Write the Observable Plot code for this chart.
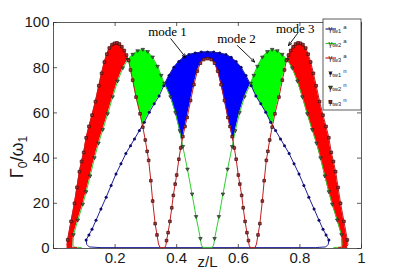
<!DOCTYPE html>
<html><head><meta charset="utf-8">
<script src="https://cdn.jsdelivr.net/npm/d3@7"></script>
<script src="https://cdn.jsdelivr.net/npm/@observablehq/plot@0.6"></script>
<style>body{margin:0;background:#fff} svg{display:block}</style>
</head><body><div id="chart"></div>
<script>
// ---- data (z/L, Γ0/ω1) ----
// mode 3 (γtw3): three arches
const red1Z = [0.044,0.046,0.057,0.068,0.076,0.084,0.091,0.098,0.106,0.115,0.125,0.136,0.147,0.156,0.165,0.173,0.181,0.19,0.198,0.206,0.214,0.222,0.23,0.237,0.244,0.25,0.257,0.268,0.281,0.29,0.298,0.304,0.309,0.316,0.322,0.33,0.336,0.341];
const red1G = [1.5,3.8,12,20,27,34,38.5,42.5,49,54,59,65,72,77.5,82.5,86,88.7,90.2,90.8,91,90.5,89.3,87.6,85.6,83.2,79,74.5,67,59.6,53.7,48,43,39,30,21,11,6,2];
const red2Z = [0.365,0.367,0.372,0.378,0.384,0.389,0.395,0.4,0.407,0.413,0.42,0.427,0.434,0.445,0.456,0.467,0.477,0.488,0.5,0.512,0.523,0.533,0.544,0.555,0.566,0.573,0.58,0.587,0.593,0.6,0.605,0.611,0.616,0.622,0.628,0.633,0.635];
const red2G = [1.5,3.5,7,12,18,23.5,28.5,32.5,39.5,44.5,49.5,54,58,65.5,72.5,78.5,82,83.6,84,83.6,82,78.5,72.5,65.5,58,54,49.5,44.5,39.5,32.5,28.5,23.5,18,12,7,3.5,1.5];
const red3Z = [0.659,0.664,0.67,0.678,0.684,0.691,0.696,0.702,0.71,0.719,0.732,0.743,0.75,0.756,0.763,0.77,0.778,0.786,0.794,0.802,0.81,0.819,0.827,0.835,0.844,0.853,0.864,0.875,0.885,0.894,0.902,0.909,0.916,0.924,0.932,0.943,0.954,0.956];
const red3G = [2,6,11,21,30,39,43,48,53.7,59.6,67,74.5,79,83.2,85.6,87.6,89.3,90.5,91,90.8,90.2,88.7,86,82.5,77.5,72,65,59,54,49,42.5,38.5,34,27,20,12,3.8,1.5];
// mode 2 (γtw2): two arches
const green1Z = [0.063,0.065,0.079,0.095,0.106,0.119,0.133,0.146,0.16,0.176,0.192,0.208,0.225,0.241,0.257,0.273,0.29,0.306,0.322,0.338,0.35,0.36,0.38,0.396,0.41,0.42,0.435,0.45,0.463,0.477,0.48];
const green1G = [1.5,6,12.5,19.5,25,32,40,46.5,52.5,59.5,67,74,79.8,83.5,85.8,87.4,88,87,84.6,80.5,76.5,73,67,60,52,45,35,24,14,4.3,1.5];
const green2Z = [0.52,0.523,0.537,0.55,0.565,0.58,0.59,0.604,0.62,0.64,0.65,0.662,0.678,0.694,0.71,0.727,0.743,0.759,0.775,0.792,0.808,0.824,0.84,0.854,0.867,0.881,0.894,0.905,0.921,0.935,0.937];
const green2G = [1.5,4.3,14,24,35,45,52,60,67,73,76.5,80.5,84.6,87,88,87.4,85.8,83.5,79.8,74,67,59.5,52.5,46.5,40,32,25,19.5,12.5,6,1.5];
// mode 1 (γtw1): one arch
const blueZ = [0.106,0.115,0.125,0.138,0.154,0.171,0.187,0.203,0.219,0.235,0.25,0.263,0.279,0.295,0.311,0.327,0.343,0.358,0.375,0.391,0.407,0.423,0.44,0.46,0.48,0.5,0.52,0.54,0.56,0.577,0.593,0.609,0.625,0.642,0.657,0.673,0.689,0.705,0.721,0.737,0.75,0.765,0.781,0.797,0.813,0.829,0.846,0.862,0.875,0.885,0.894];
const blueG = [3.8,6,8.5,12.5,17.5,22.7,27.9,33,37.5,42,45.5,48.5,52.2,55.9,60.3,64,67.5,72,76.5,80.2,82.7,84.6,85.8,86.5,86.9,87,86.9,86.5,85.8,84.6,82.7,80.2,76.5,72,67.5,64,60.3,55.9,52.2,48.5,45.5,42,37.5,33,27.9,22.7,17.5,12.5,8.5,6,3.8];
// bottom turns of the analytic curves (near Γ0/ω1 = 0)
const redFootZ = [[0.075,0.052],[0.345,0.352,0.358,0.362],[0.638,0.642,0.648,0.655],[0.948,0.925]];
const redFootG = [[0.4,0.6],[0.6,0.35,0.35,0.6],[0.6,0.35,0.35,0.6],[0.6,0.4]];
const greenFootZ = [[0.09,0.068],[0.484,0.492,0.508,0.516],[0.932,0.91]];
const greenFootG = [[0.4,0.6],[0.6,0.35,0.35,0.6],[0.6,0.4]];
const blueFootZ = [[0.15,0.116,0.108],[0.892,0.884,0.85,0.15]];
const blueFootG = [[0.4,0.7,1.8],[1.8,0.7,0.4,0.4]];

const xTickVals = [0,0.2,0.4,0.6,0.8,1];
const xTickLabels = ["","0.2","0.4","0.6","0.8","1"];
const yTickVals = [0,20,40,60,80,100];
const yTickLabels = ["0","20","40","60","80","100"];

const modeLabels = ["mode 1","mode 2","mode 3"];
const labelZ = [0.37,0.594,0.785], labelG = [95.9,92.8,97.3];
const arrowFromZ = [0.381,0.597,0.792], arrowFromG = [92.8,89.8,95.1];
const arrowToZ = [0.429,0.653,0.763], arrowToG = [84.6,82.5,89.8];

const legendItems = ["tw1","tw2","tw3","tw1","tw2","tw3"];
const legendSup = ["a","a","a","n","n","n"];

// ---- colours ----
const C = {
  blueLine:"#20209a", greenLine:"#33cc33", redLine:"#c02020",
  blueFill:"#0000ff", greenFill:"#00ff00", redFill:"#ff0000",
  blueDot:"#0b0b70", triFill:"#4d6b4d", triStroke:"#142014", sqFill:"#a83838", sqStroke:"#3c0a0a"
};

// ---- build tables ----
const rows = (z, g) => z.map((v, i) => ({z: v, g: g[i]}));
const joinPath = (parts) => parts.flatMap(([z, g]) => rows(z, g));
const redLine = joinPath([[redFootZ[0],redFootG[0]],[red1Z,red1G],[redFootZ[1],redFootG[1]],[red2Z,red2G],[redFootZ[2],redFootG[2]],[red3Z,red3G],[redFootZ[3],redFootG[3]]]);
const greenLine = joinPath([[greenFootZ[0],greenFootG[0]],[green1Z,green1G],[greenFootZ[1],greenFootG[1]],[green2Z,green2G],[greenFootZ[2],greenFootG[2]]]);
const blueLine = joinPath([[blueFootZ[0],blueFootG[0]],[blueZ,blueG],[blueFootZ[1],blueFootG[1]]]);
const inner = (z, g) => rows(z, g).slice(1, -1);
const redPts = [...inner(red1Z,red1G), ...inner(red2Z,red2G), ...inner(red3Z,red3G)];
const greenPts = [...inner(green1Z,green1G), ...inner(green2Z,green2G)];
const bluePts = rows(blueZ, blueG);

// region between the highest and the second highest curve
function archAt(z, g, x) {
  if (x < z[0] || x > z[z.length - 1]) return 0;
  for (let i = 1; i < z.length; i++) if (x <= z[i]) {
    const t = (x - z[i-1]) / (z[i] - z[i-1]);
    return g[i-1] + t * (g[i] - g[i-1]);
  }
  return 0;
}
const fillRows = [];
for (let k = 0; k <= 920; k++) {
  const x = 0.04 + k * 0.001;
  const v = {
    r: Math.max(archAt(red1Z,red1G,x), archAt(red2Z,red2G,x), archAt(red3Z,red3G,x)),
    g: Math.max(archAt(green1Z,green1G,x), archAt(green2Z,green2G,x)),
    b: archAt(blueZ,blueG,x)
  };
  const order = Object.entries(v).sort((a, b) => b[1] - a[1]);
  fillRows.push({x, top: order[0][1] > 0 ? order[0][0] : null, hi: order[0][1], lo: order[1][1]});
}
const fillFor = (key, color) => Plot.areaY(fillRows, {
  x: "x",
  y1: d => d.top === key ? d.lo : NaN,
  y2: d => d.top === key ? d.hi : NaN,
  fill: color
});

const triDown = { draw(ctx, size) {
  const h = Math.sqrt(size) * 0.95;
  ctx.moveTo(-h * 0.62, -h * 0.45); ctx.lineTo(h * 0.62, -h * 0.45); ctx.lineTo(0, h * 0.6); ctx.closePath();
}};

const annot = modeLabels.map((t, i) => ({t, tx: labelZ[i], ty: labelG[i], x1: arrowFromZ[i], y1: arrowFromG[i], x2: arrowToZ[i], y2: arrowToG[i]}));

const W = 399, H = 279, mL = 53, mR = 38, mT = 22, mB = 31;
const pw = W - mL - mR, ph = H - mT - mB;

const chart = Plot.plot({
  width: W, height: H,
  marginLeft: mL, marginRight: mR, marginTop: mT, marginBottom: mB,
  x: {domain: [0, 1]},
  y: {domain: [0, 100]},
  style: {fontFamily: "'Liberation Sans', Arial, sans-serif", fontSize: "15px", background: "#fff", color: "#1a1a1a", overflow: "visible"},
  marks: [
    fillFor("r", C.redFill),
    fillFor("g", C.greenFill),
    fillFor("b", C.blueFill),
    Plot.line(blueLine, {x: "z", y: "g", stroke: C.blueLine, strokeWidth: 1}),
    Plot.line(greenLine, {x: "z", y: "g", stroke: C.greenLine, strokeWidth: 1}),
    Plot.line(redLine, {x: "z", y: "g", stroke: C.redLine, strokeWidth: 1}),
    Plot.dot(bluePts, {x: "z", y: "g", r: 1.5, fill: C.blueDot, stroke: "none"}),
    Plot.dot(greenPts, {x: "z", y: "g", r: 1.7, symbol: triDown, fill: C.triFill, stroke: C.triStroke, strokeWidth: 0.6}),
    Plot.dot(redPts, {x: "z", y: "g", r: 1.5, symbol: "square", fill: C.sqFill, stroke: C.sqStroke, strokeWidth: 0.7}),
    Plot.frame({stroke: "#333", strokeWidth: 0.8}),
    Plot.tickX(xTickVals, {x: d => d, insetTop: ph - 4, stroke: "#333", strokeWidth: 0.8}),
    Plot.tickX(xTickVals, {x: d => d, insetBottom: ph - 4, stroke: "#333", strokeWidth: 0.8}),
    Plot.tickY(yTickVals, {y: d => d, insetRight: pw - 4, stroke: "#333", strokeWidth: 0.8}),
    Plot.tickY(yTickVals, {y: d => d, insetLeft: pw - 4, stroke: "#333", strokeWidth: 0.8}),
    Plot.axisX({ticks: xTickVals, tickSize: 0, tickPadding: 4, tickFormat: d => xTickLabels[xTickVals.indexOf(d)], label: null, fontSize: 15}),
    Plot.axisY({ticks: yTickVals, tickSize: 0, tickPadding: 4, tickFormat: d => yTickLabels[yTickVals.indexOf(d)], label: null, fontSize: 15}),
    Plot.text(["z/L"], {frameAnchor: "bottom", dy: 18, fontSize: 15, text: d => d}),
    Plot.arrow(annot, {x1: "x1", y1: "y1", x2: "x2", y2: "y2", stroke: "#000", strokeWidth: 0.9, headLength: 6, headAngle: 45}),
    Plot.text(annot, {x: "tx", y: "ty", text: "t", fontFamily: "'Liberation Serif', 'Times New Roman', serif", fontSize: 13, fill: "#000"})
  ]
});
document.getElementById("chart").appendChild(chart);

// y label Γ0/ω1 with subscripts
const svg = d3.select(chart);
const yl = svg.append("text")
  .attr("transform", "translate(23,157) rotate(-90)")
  .attr("text-anchor", "middle")
  .attr("fill", "#1a1a1a")
  .style("font-family", "'Liberation Sans', Arial, sans-serif")
  .style("font-size", "18px");
yl.append("tspan").text("Γ");
yl.append("tspan").attr("font-size", "12px").attr("dy", 4).text("0");
yl.append("tspan").attr("dy", -4).text("/ω");
yl.append("tspan").attr("font-size", "12px").attr("dy", 4).text("1");

// legend inside the axes, top right
const lg = svg.append("g").attr("transform", "translate(323,19)");
lg.append("rect").attr("width", 38).attr("height", 91).attr("fill", "#fff").attr("stroke", "#333").attr("stroke-width", 0.8);
const ly = [10, 24.5, 39, 54, 68.5, 83];
const legendStyle = [
  {kind: "line", color: C.blueLine}, {kind: "line", color: C.greenLine}, {kind: "line", color: C.redLine},
  {kind: "dot"}, {kind: "tri"}, {kind: "sq"}
];
legendItems.forEach((sub, i) => {
  const y = ly[i], s = legendStyle[i];
  if (s.kind === "line") lg.append("line").attr("x1", 2.5).attr("x2", 13).attr("y1", y).attr("y2", y).attr("stroke", s.color).attr("stroke-width", 1.2);
  else if (s.kind === "dot") lg.append("circle").attr("cx", 7.5).attr("cy", y).attr("r", 1.5).attr("fill", C.blueDot);
  else if (s.kind === "tri") lg.append("path").attr("d", `M${7.5-2},${y-1.4}L${7.5+2},${y-1.4}L7.5,${y+1.9}Z`).attr("fill", C.triFill).attr("stroke", C.triStroke).attr("stroke-width", 0.6);
  else lg.append("rect").attr("x", 6).attr("y", y - 1.4).attr("width", 2.8).attr("height", 2.8).attr("fill", C.sqFill).attr("stroke", C.sqStroke).attr("stroke-width", 0.7);
  const t = lg.append("text").attr("x", 14.5).attr("y", y + 2.3).attr("fill", "#1a1a1a")
    .style("font-family", "'Liberation Sans', Arial, sans-serif").style("font-size", "7.5px");
  t.append("tspan").text("γ");
  t.append("tspan").attr("font-size", "5.8px").attr("dy", 1.5).text(sub);
  t.append("tspan").attr("font-size", "6px").attr("dx", 2).attr("dy", -4).text(legendSup[i]);
});
</script></body></html>
